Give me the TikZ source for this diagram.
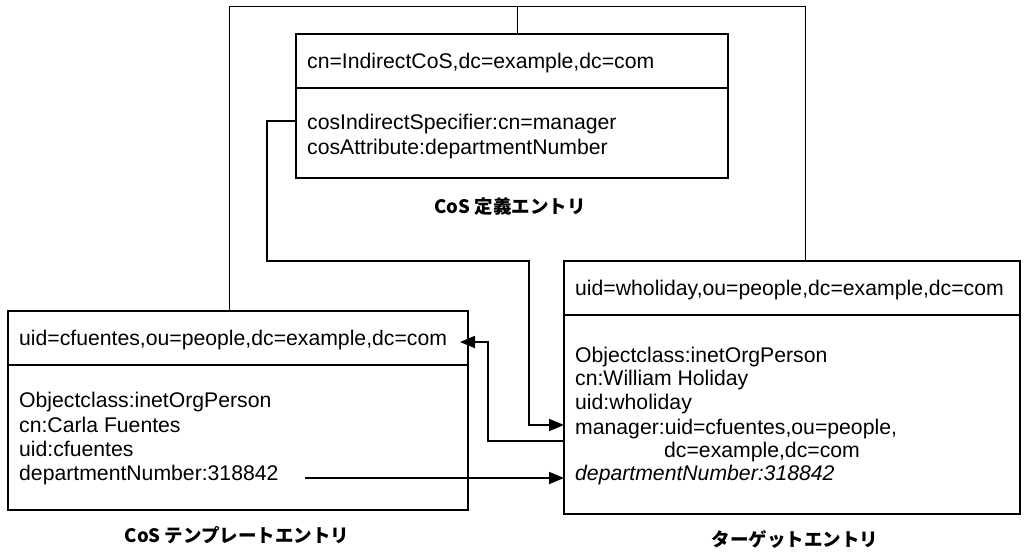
\documentclass[tikz,border=0pt]{standalone}
\usepackage{fontspec}
\setmainfont{Liberation Sans}
\newfontfamily\cjk{Noto Sans CJK JP}
\usetikzlibrary{arrows.meta,calc}
\begin{document}
\begin{tikzpicture}[x=1pt,y=-1pt,
  entry/.style={draw,line width=2pt,inner sep=0pt,outer sep=0pt},
  sep/.style={line width=2pt},
  txt/.style={anchor=base west,inner sep=0pt,font=\fontsize{21.2}{24}\selectfont},
  lab/.style={inner sep=0pt,font=\cjk\bfseries\fontsize{18.5}{22}\selectfont},
  conn/.style={line width=1.8pt},
  arr/.style={conn,-{Triangle[length=15pt,width=12pt]}},
  frame/.style={line width=1pt}]
\useasboundingbox (0,0) rectangle (1024,551);

% boxes
\node[entry,minimum width=432pt,minimum height=144pt] (def) at (512,106) {};
\node[entry,minimum width=456pt,minimum height=253pt] (tgt) at (792,387.5) {};
\node[entry,minimum width=460pt,minimum height=199pt] (tpl) at (238,410.5) {};

\draw[sep] ($(def.north west)+(0,54)$) -- ($(def.north east)+(0,54)$);
\draw[sep] ($(tgt.north west)+(0,54)$) -- ($(tgt.north east)+(0,54)$);
\draw[sep] ($(tpl.north west)+(0,54)$) -- ($(tpl.north east)+(0,54)$);

% texts: definition entry
\node[txt] (d0) at (307,68) {cn=IndirectCoS,dc=example,dc=com};
\node[txt] (d1) at (307,129) {cosIndirectSpecifier:cn=manager};
\node[txt] (d2) at (307,154) {cosAttribute:departmentNumber};

% texts: target entry
\node[txt] (t0) at (575,295) {uid=wholiday,ou=people,dc=example,dc=com};
\node[txt] (t1) at (575,362) {Objectclass:inetOrgPerson};
\node[txt] (t2) at (575,385) {cn:William Holiday};
\node[txt] (t3) at (575,409) {uid:wholiday};
\node[txt] (t4) at (575,434) {manager:uid=cfuentes,ou=people,};
\node[txt] (t5) at (664,457) {dc=example,dc=com};
\node[txt] (t6) at (575,480) {\itshape departmentNumber:318842};

% texts: template entry
\node[txt] (p0) at (19,345) {uid=cfuentes,ou=people,dc=example,dc=com};
\node[txt] (p1) at (19,407) {Objectclass:inetOrgPerson};
\node[txt] (p2) at (19,432) {cn:Carla Fuentes};
\node[txt] (p3) at (19,456) {uid:cfuentes};
\node[txt] (p4) at (19,480) {departmentNumber:318842};

% labels
\node[lab] (deflab) at (510,207) {CoS 定義エントリ};
\node[lab] (tpllab) at (237,535) {CoS テンプレートエントリ};
\node[lab] (tgtlab) at (795,539) {ターゲットエントリ};

% frame lines
\coordinate (fl) at (229,7);
\coordinate (fr) at (805,7);
\coordinate (fm) at (517,7);
\draw[frame] (fl |- tpl.north) -- (fl) -- (fr) -- (fr |- tgt.north);
\draw[frame] (fm) -- (fm |- def.north);

% connectors
\coordinate (c1) at (267,261);
\coordinate (c2) at (529,261);
\draw[arr] ($(def.north west)+(0,87)$) -| (c1) -- (c2) |- ($(tgt.north west)+(0,164)$);

\coordinate (r1) at (488,342);
\draw[arr] ($(tgt.north west)+(0,180)$) -| (r1) -- ($(tpl.north east)+(-8,31)$);

\coordinate (s1) at (305,478);
\draw[arr] (s1) -- ($(tgt.north west)+(0,217)$);
\end{tikzpicture}
\end{document}
